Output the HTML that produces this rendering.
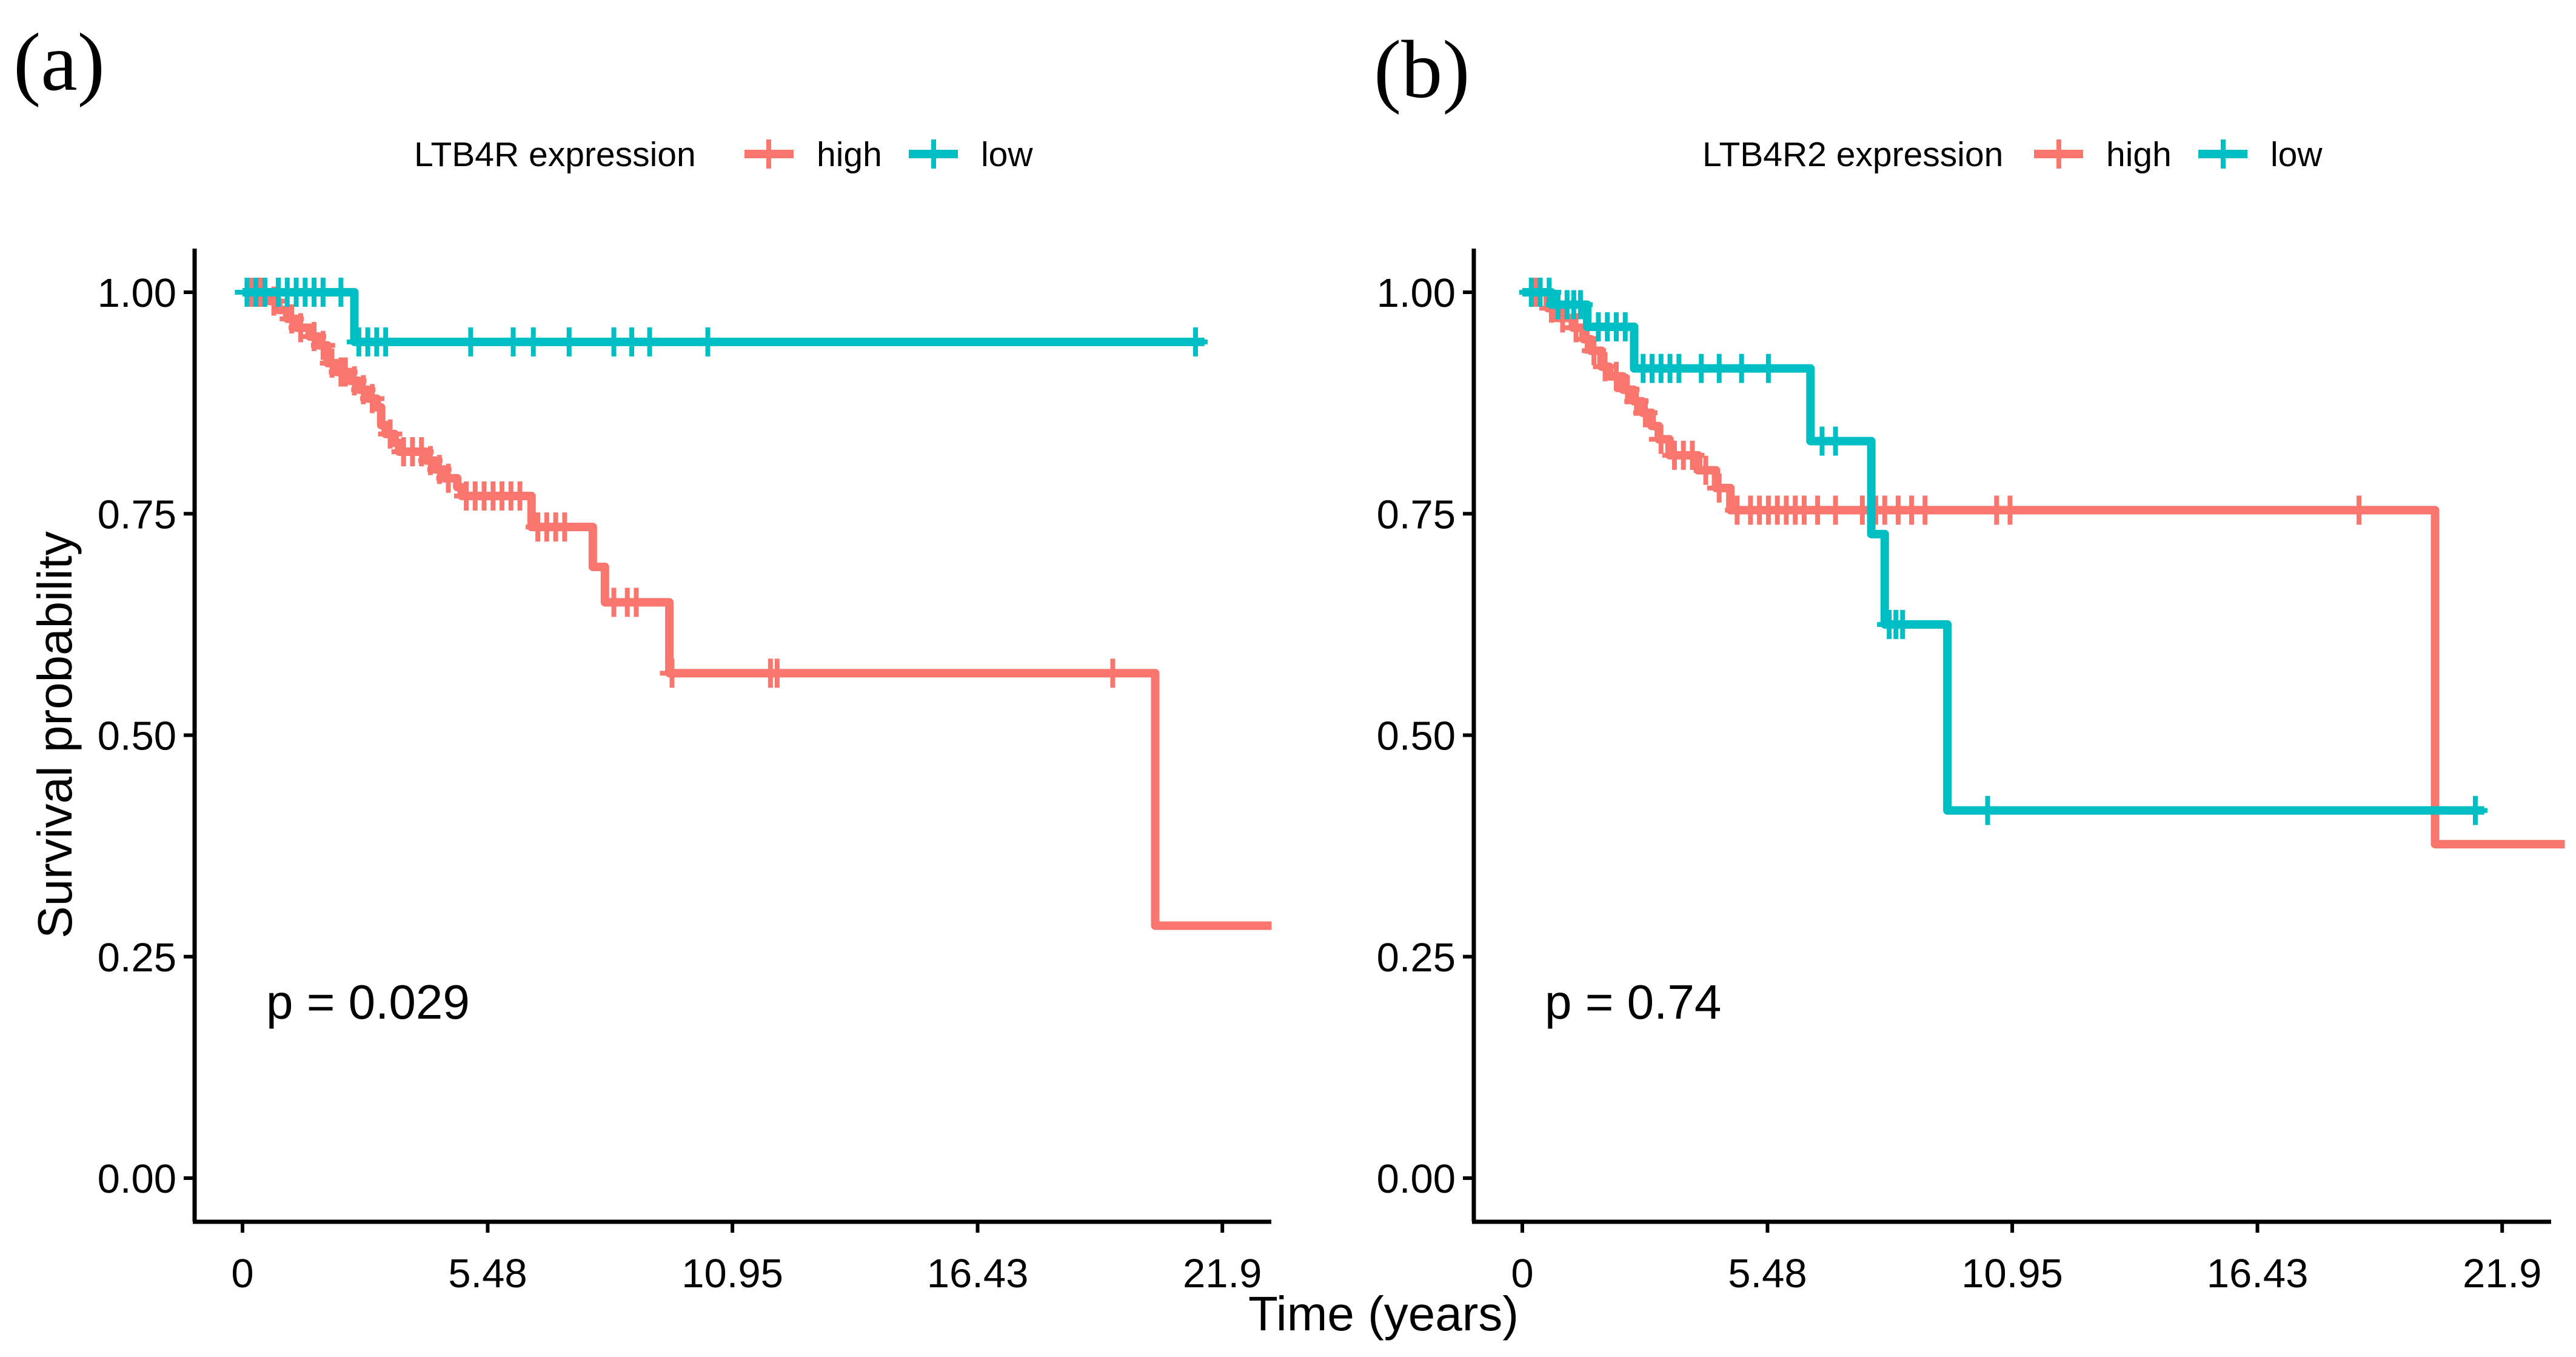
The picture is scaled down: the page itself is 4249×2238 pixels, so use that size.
<!DOCTYPE html>
<html><head><meta charset="utf-8"><style>
html,body{margin:0;padding:0;background:#fff;}
svg{display:block;}
text{font-family:"Liberation Sans",Arial,sans-serif;fill:#000;}
</style></head><body>
<svg id="chart" width="4249" height="2238" viewBox="0 0 4249 2238" xmlns="http://www.w3.org/2000/svg">
<text x="22" y="148" style="font-family:'Liberation Serif',serif;font-size:136px;">(a)</text>
<text x="2266" y="160" style="font-family:'Liberation Serif',serif;font-size:136px;">(b)</text>
<g>
<text x="683" y="274" font-size="57">LTB4R expression</text>
<line x1="1228" y1="254" x2="1309" y2="254" stroke="#F8766D" stroke-width="14"/><line x1="1268" y1="230" x2="1268" y2="278" stroke="#F8766D" stroke-width="8"/>
<text x="1347" y="274" font-size="57">high</text>
<line x1="1499" y1="254" x2="1580" y2="254" stroke="#00BFC4" stroke-width="14"/><line x1="1540" y1="230" x2="1540" y2="278" stroke="#00BFC4" stroke-width="8"/>
<text x="1618" y="274" font-size="57">low</text>
</g>
<g>
<text x="2808" y="274" font-size="57">LTB4R2 expression</text>
<line x1="3355" y1="254" x2="3436" y2="254" stroke="#F8766D" stroke-width="14"/><line x1="3396" y1="230" x2="3396" y2="278" stroke="#F8766D" stroke-width="8"/>
<text x="3474" y="274" font-size="57">high</text>
<line x1="3626" y1="254" x2="3707" y2="254" stroke="#00BFC4" stroke-width="14"/><line x1="3667" y1="230" x2="3667" y2="278" stroke="#00BFC4" stroke-width="8"/>
<text x="3745" y="274" font-size="57">low</text>
</g>
<text transform="translate(118,1212) rotate(-90)" text-anchor="middle" font-size="80">Survival probability</text>
<text x="2282" y="2194" text-anchor="middle" font-size="80">Time (years)</text>
<text x="439" y="1680" font-size="80">p = 0.029</text>
<text x="2548" y="1680" font-size="80">p = 0.74</text>
</svg>
<script>
// ---- data ----
const xTickValues = [0, 5.48, 10.95, 16.43, 21.9];
const xTickLabels = ["0", "5.48", "10.95", "16.43", "21.9"];
const yTickValues = [0, 0.25, 0.5, 0.75, 1.0];
const yTickLabels = ["0.00", "0.25", "0.50", "0.75", "1.00"];

// Panel A: LTB4R
const aHighTimes = [0, 0.6, 0.8, 1.0, 1.2, 1.5, 1.7, 1.9, 2.1, 2.4, 2.6, 2.8, 3.0, 3.1, 3.2, 3.4, 3.5, 4.1, 4.3, 4.5, 4.8, 4.9, 6.46, 7.83, 8.1, 9.54, 20.4];
const aHighSurv  = [1.0, 0.99, 0.98, 0.97, 0.96, 0.95, 0.94, 0.92, 0.91, 0.90, 0.89, 0.88, 0.87, 0.85, 0.84, 0.83, 0.82, 0.81, 0.80, 0.79, 0.78, 0.77, 0.735, 0.69, 0.65, 0.57, 0.285];
const aHighEnd = 23.0;
const aHighCensor = [0.2, 0.4, 0.7, 1.1, 1.3, 1.6, 1.8, 2.0, 2.2, 2.3, 2.5, 2.7, 2.9, 3.3, 3.6, 3.8, 4.0, 4.2, 4.4, 4.6, 5.0, 5.2, 5.4, 5.6, 5.8, 6.0, 6.2, 6.6, 6.8, 7.0, 7.2, 8.3, 8.6, 8.8, 9.6, 11.8, 11.95, 19.45];
const aLowTimes = [0, 2.5];
const aLowSurv  = [1.0, 0.944];
const aLowEnd = 21.5;
const aLowCensor = [0.1, 0.3, 0.5, 0.8, 1.0, 1.2, 1.4, 1.6, 1.8, 2.2, 2.6, 2.8, 3.0, 3.2, 5.1, 6.05, 6.5, 7.3, 8.3, 8.7, 9.1, 10.4, 21.3];

// Panel B: LTB4R2
const bHighTimes = [0, 0.57, 0.73, 1.13, 1.37, 1.53, 1.77, 1.94, 2.25, 2.49, 2.68, 2.89, 3.05, 3.29, 3.93, 4.33, 4.65, 20.4];
const bHighSurv  = [1.0, 0.982, 0.971, 0.960, 0.947, 0.934, 0.916, 0.905, 0.890, 0.877, 0.864, 0.849, 0.834, 0.816, 0.799, 0.779, 0.754, 0.377];
const bHighEnd = 23.3;
const bHighCensor = [0.3, 0.65, 0.9, 1.2, 1.45, 1.6, 1.85, 2.1, 2.35, 2.55, 2.75, 3.1, 3.4, 3.6, 3.8, 4.1, 4.4, 4.8, 5.1, 5.3, 5.5, 5.7, 5.9, 6.1, 6.3, 6.6, 7.0, 7.6, 7.9, 8.1, 8.4, 8.7, 9.0, 10.6, 10.9, 18.7];
const bLowTimes = [0, 0.65, 1.45, 2.5, 6.44, 7.8, 8.1, 9.5];
const bLowSurv  = [1.0, 0.986, 0.961, 0.914, 0.832, 0.727, 0.625, 0.415];
const bLowEnd = 21.5;
const bLowCensor = [0.2, 0.4, 0.6, 0.8, 1.0, 1.15, 1.3, 1.7, 1.9, 2.1, 2.3, 2.7, 2.9, 3.1, 3.3, 3.5, 4.0, 4.4, 4.9, 5.5, 6.7, 7.0, 8.2, 8.35, 8.5, 10.4, 21.3];

const RED = "#F8766D", TEAL = "#00BFC4";
const svg = document.getElementById('chart');
const NS = "http://www.w3.org/2000/svg";

function mk(tag, attrs) {
  const el = document.createElementNS(NS, tag);
  for (const k in attrs) el.setAttribute(k, attrs[k]);
  svg.appendChild(el);
  return el;
}

function survAt(times, surv, t) {
  let s = surv[0];
  for (let i = 0; i < times.length; i++) if (times[i] <= t) s = surv[i];
  return s;
}

function drawPanel(p, series) {
  const xs = v => p.x0 + v * p.pxPerYear;
  const ys = v => p.y0 - v * (p.y0 - p.y1);
  const ya = mk('line', {x1: p.axisX, y1: 410, x2: p.axisX, y2: p.axisY, stroke: '#000', 'stroke-width': 7});
  
  
  const xa = mk('line', {x1: p.axisX - 3, y1: p.axisY, x2: p.axisEnd, y2: p.axisY, stroke: '#000', 'stroke-width': 7});
  
  
  yTickValues.forEach((v, i) => {
    const y = ys(v);
    const tk = mk('line', {x1: p.axisX - 18, y1: y, x2: p.axisX, y2: y, stroke: '#000', 'stroke-width': 6});
    
    
    const tx = mk('text', {x: p.axisX - 30, y: y + 24, 'text-anchor': 'end', 'font-size': 67});
    tx.textContent = yTickLabels[i];
    
    
  });
  xTickValues.forEach((v, i) => {
    const x = xs(v);
    const tk = mk('line', {x1: x, y1: p.axisY, x2: x, y2: p.axisY + 18, stroke: '#000', 'stroke-width': 6});
    
    
    const tx = mk('text', {x: x, y: p.axisY + 108, 'text-anchor': 'middle', 'font-size': 67});
    tx.textContent = xTickLabels[i];
    
    
  });
  series.forEach(s => {
    let d = 'M' + xs(s.times[0]) + ',' + ys(s.surv[0]);
    for (let i = 1; i < s.times.length; i++) {
      d += ' H' + xs(s.times[i]) + ' V' + ys(s.surv[i]);
    }
    d += ' H' + xs(s.end);
    const path = mk('path', {d: d, fill: 'none', stroke: s.color, 'stroke-width': 14, 'stroke-linejoin': 'round'});
    
    
    s.censor.forEach(t => {
      const x = xs(t), y = ys(survAt(s.times, s.surv, t));
      const c = mk('path', {d: 'M' + (x - 20) + ',' + y + ' H' + (x + 20) + ' M' + x + ',' + (y - 24) + ' V' + (y + 24), stroke: s.color, 'stroke-width': 8, fill: 'none'});
      
      
    });
  });
}

drawPanel({id: 'a', x0: 400, pxPerYear: 73.8, y0: 1943, y1: 482, axisX: 321, axisY: 2015, axisEnd: 2097}, [
  {name: 'high', color: RED, times: aHighTimes, surv: aHighSurv, end: aHighEnd, censor: aHighCensor},
  {name: 'low', color: TEAL, times: aLowTimes, surv: aLowSurv, end: aLowEnd, censor: aLowCensor}
]);
drawPanel({id: 'b', x0: 2511, pxPerYear: 73.8, y0: 1943, y1: 482, axisX: 2431, axisY: 2015, axisEnd: 4208}, [
  {name: 'high', color: RED, times: bHighTimes, surv: bHighSurv, end: bHighEnd, censor: bHighCensor},
  {name: 'low', color: TEAL, times: bLowTimes, surv: bLowSurv, end: bLowEnd, censor: bLowCensor}
]);
</script>
</body></html>
